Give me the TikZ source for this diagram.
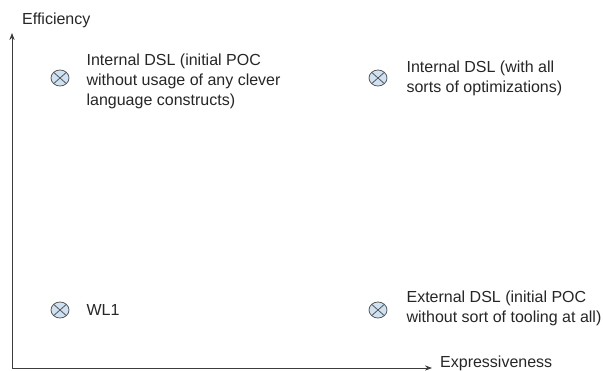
\documentclass[tikz,border=0pt]{standalone}
\usepackage{fontspec}
\setmainfont{Liberation Sans}
\usepackage[dvipsnames,svgnames,x11names]{xcolor}
\definecolor{markfill}{RGB}{207, 226, 243}
\definecolor{axisgray}{RGB}{60, 60, 60}
\usepackage{tikz}
\usetikzlibrary{arrows.meta,positioning,shapes.geometric}

\begin{document}
\begin{tikzpicture}[x=1pt, y=1pt, >=Stealth,
    pointmark/.style={ellipse, draw=black!65, fill=markfill, line width=0.8pt,
        minimum width=18pt, minimum height=16pt, inner sep=0pt,
        path picture={\draw[black!65, line width=0.8pt]
            (path picture bounding box.north west) -- (path picture bounding box.south east)
            (path picture bounding box.north east) -- (path picture bounding box.south west);}},
    desc/.style={inner sep=0pt, align=left, text=black!85,
        font=\fontsize{16}{20}\selectfont}]
    \useasboundingbox (0,0) rectangle (603,370);

    \coordinate (O) at (12,2);
    \coordinate (ytip) at (12,337);
    \coordinate (xtip) at (432,2);

    % Axes
    \draw[->, axisgray, line width=0.9pt] (O) -- (ytip);
    \draw[->, axisgray, line width=0.9pt] (O) -- (xtip);
    \node[desc, anchor=west, xshift=10pt, yshift=13pt] (effic) at (ytip) {Efficiency};
    \node[desc, anchor=west, xshift=8pt, yshift=5pt] (expr) at (xtip) {Expressiveness};

    % Points
    \node[pointmark] (m1) at (60,292) {};
    \node[pointmark] (m2) at (378,292) {};
    \node[pointmark] (m3) at (60,60) {};
    \node[pointmark] (m4) at (378,60) {};

    \node[desc, right=17pt of m1, yshift=-3pt] (t1) {Internal DSL (initial POC\\without usage of any clever\\language constructs)};
    \node[desc, right=19pt of m2] (t2) {Internal DSL (with all\\sorts of optimizations)};
    \node[desc, right=17pt of m3] (t3) {WL1};
    \node[desc, right=19pt of m4, yshift=2pt] (t4) {External DSL (initial POC\\without sort of tooling at all)};
\end{tikzpicture}
\end{document}
